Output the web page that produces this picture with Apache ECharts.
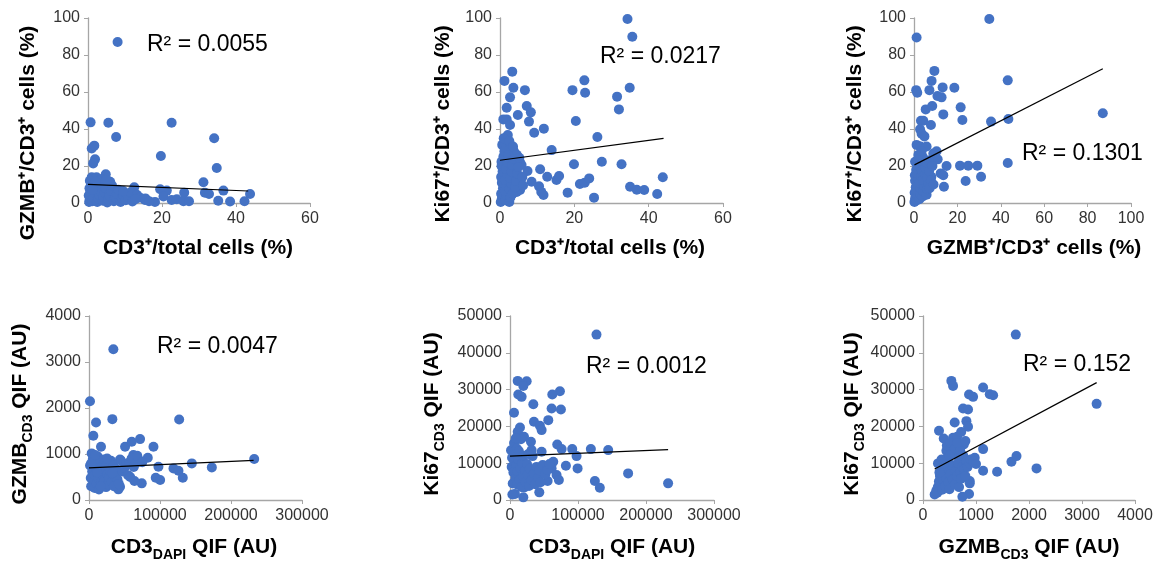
<!DOCTYPE html>
<html>
<head>
<meta charset="utf-8">
<script src="https://cdn.jsdelivr.net/npm/echarts@6/dist/echarts.min.js"></script>
<style>
  html, body { margin: 0; padding: 0; background: #fff; }
  #main { width: 1165px; height: 563px; }
</style>
</head>
<body>
<div id="main"></div>
<script>
// panel 1: CD3+/total cells (%) vs GZMB+/CD3+ cells (%)
var cd3VsGzmb = [
  [8.0, 87], [0.7, 43.6], [5.5, 43.4], [22.6, 43.4], [7.6, 35.7], [34.1, 35], [1.0, 29.5], [1.7, 31],
  [19.7, 25.4], [1.9, 23.6], [1.4, 21.4], [34.8, 18.9], [1.0, 13.9], [2.3, 13.9], [4.8, 15.5], [3.2, 12.4],
  [31.2, 11.2], [12.5, 8.5], [19.5, 7.4], [21.3, 6.7], [26, 5.6], [31.6, 5.6], [32.7, 4.9], [36.6, 6.7],
  [43.8, 4.9], [15.4, 1.6], [18.1, 0.6], [22.6, 1.6], [24, 2.0], [25.8, 1.0], [27.3, 0.9], [35.2, 1.2],
  [38.4, 0.8], [42.3, 0.9], [20.4, 3.5],
  [0.3, 0.5], [0.5, 2], [0.2, 4], [0.6, 6], [0.4, 8], [0.8, 10], [1.2, 1], [1.5, 3], [1.8, 5.5], [2.0, 7.5],
  [2.2, 9.5], [2.5, 0.5], [2.8, 2.5], [3.0, 4.5], [3.3, 6.5], [3.6, 10.5], [4.0, 1.2], [4.2, 3.2], [4.5, 5.5],
  [4.8, 8], [5.2, 0.3], [5.5, 2.2], [5.8, 4], [6.2, 6.5], [6.5, 9.5], [7.0, 1], [7.4, 3], [7.8, 5], [8.2, 7.2],
  [8.8, 0.5], [9.2, 2.5], [9.6, 4.2], [10.2, 1.5], [10.8, 3.5], [11.5, 5.8], [12.0, 0.8], [13.2, 4.5], [14.0, 3],
  [12.8, 2], [6.0, 11.5], [3.8, 13], [5.0, 12.5], [0.5, 12], [2.0, 11.5], [1.2, 7.2], [15.5, 2.5], [16.5, 1], [9.5, 6.5]
];
var trend1 = [[0, 10.1], [43.3, 6.5]];

// panel 2: CD3+/total cells (%) vs Ki67+/CD3+ cells (%)
var cd3VsKi67 = [
  [34.3, 99.5], [35.6, 89.9], [3.3, 71], [1.2, 66], [22.7, 66.3], [3.6, 62.3], [6.7, 61], [19.5, 61],
  [22.9, 59.6], [34.9, 62.3], [2.7, 57.1], [31.5, 57.5], [32, 50.6], [1.8, 51.5], [7.2, 52.4], [4.8, 47.6],
  [8.3, 49], [7.8, 44], [20.4, 44.3], [0.9, 45.2], [1.8, 45.2], [2.7, 42.2], [2.1, 36.8], [9.2, 38], [11.8, 40.2],
  [26.2, 35.7], [13.9, 28.6], [0.6, 31.4], [2.7, 31.4], [3.6, 28.6], [0.4, 22.3], [27.4, 22.3], [19.9, 20.9],
  [32.7, 20.9], [7.4, 17.3], [10.8, 18.2], [5.4, 22], [5.8, 20.5], [12.7, 14.2], [15.2, 12.4], [15.9, 14.6],
  [8.5, 11.5], [10.5, 9], [11.7, 4.3], [11.1, 6], [18.2, 5.6], [21.5, 10.3], [22.8, 11], [24, 13.3], [25.3, 2.9],
  [35, 8.8], [36.8, 7.2], [38.8, 7], [42.3, 4.9], [43.8, 13.9], [5.4, 7], [4.5, 6],
  [0.2, 0.5], [0.5, 2.5], [0.3, 5], [0.8, 8], [0.5, 11], [0.3, 14], [0.7, 17], [0.4, 20], [0.9, 25], [1.2, 28],
  [1.5, 1.5], [1.8, 4], [1.3, 6.5], [1.7, 9.5], [1.4, 12.5], [1.9, 15.5], [1.6, 18.5], [2.0, 22], [2.3, 26],
  [2.5, 0.5], [2.8, 3], [2.6, 7.5], [3.0, 10.5], [2.7, 13.5], [3.1, 17], [3.3, 20.5], [3.6, 24], [4.0, 27],
  [3.4, 5], [4.1, 8.5], [4.3, 12], [4.6, 16], [4.9, 19.5], [5.2, 24.5], [6, 14], [1.0, 35], [2.5, 33.5],
  [3.5, 30.5], [4.5, 26], [6.2, 9.5]
];
var trend2 = [[0, 23.1], [44, 34.9]];

// panel 3: GZMB+/CD3+ cells (%) vs Ki67+/CD3+ cells (%)
var gzmbVsKi67 = [
  [34.7, 99.5], [1.2, 89.5], [9.4, 71.4], [8.1, 66], [43.2, 66.3], [1, 61], [1.5, 59.6], [7.1, 61], [13.2, 62.5],
  [18.6, 62.3], [10.8, 57.8], [12.7, 57.1], [5.4, 50.6], [8.4, 52.4], [21.5, 51.7], [13.5, 47.9], [22.3, 44.9],
  [35.5, 44], [43.5, 45.4], [3.2, 44.5], [4.3, 44.5], [7.8, 42.2], [2.8, 39.8], [3.5, 37.5], [4.8, 36],
  [1.2, 31.4], [3.0, 30.5], [5.8, 30.5], [10.4, 28], [8.9, 26.8], [0.5, 22.3], [43.2, 21.6], [21.2, 20.2],
  [25, 20.2], [29.2, 20.2], [15, 20], [30.9, 14.2], [23.8, 11.9], [13.8, 8.8], [12.3, 16], [13.5, 15],
  [87, 48.5], [9.4, 23.6], [10.9, 23.6], [8.0, 14.2],
  [0.2, 0.5], [0.5, 2.5], [0.3, 5.5], [0.8, 8.5], [0.5, 12], [0.4, 15], [1.0, 18], [1.3, 1.5], [1.6, 4],
  [1.2, 7], [1.8, 10], [2.0, 13], [1.5, 16], [2.2, 20], [2.5, 2], [2.8, 5], [3.0, 8], [2.6, 11], [3.3, 14.5],
  [3.6, 17.5], [4.0, 3.5], [4.3, 6.5], [4.6, 9.5], [4.2, 12.5], [5.0, 15.5], [5.3, 19], [5.8, 4.5], [6.2, 7.5],
  [6.5, 11], [6.0, 14], [7.0, 17.5], [7.2, 8], [7.8, 12], [5.5, 22], [4.0, 25], [6.8, 23], [2.0, 26], [3.5, 28],
  [8.5, 20], [9.0, 10]
];
var trend3 = [[0.2, 20.6], [87, 72.6]];

// panel 4: CD3 DAPI QIF vs GZMB CD3 QIF
var dapiVsGzmbQif = [
  [34300, 3277], [1400, 2148], [32900, 1758], [9900, 1685], [127000, 1750], [6100, 1396], [50800, 1157],
  [60200, 1266], [71900, 1324], [16900, 1157], [90800, 1157], [3800, 1013], [62500, 977], [82800, 919],
  [70500, 868], [43700, 882], [31000, 854], [144800, 796], [173000, 709], [232700, 890], [97800, 723],
  [119000, 687], [126000, 637], [132100, 485], [94000, 485], [100200, 434], [74300, 362], [64000, 412],
  [43700, 289], [41400, 231],
  [1500, 750], [2500, 480], [3000, 300], [4500, 620], [5500, 900], [6500, 400], [7500, 550], [8000, 260],
  [9000, 800], [10000, 680], [11000, 350], [12000, 950], [13000, 480], [14000, 230], [15000, 860], [16000, 600],
  [17000, 380], [18000, 720], [19000, 300], [20000, 520], [21000, 880], [22000, 420], [23000, 650], [24000, 280],
  [25000, 760], [26000, 560], [27000, 340], [28000, 480], [30000, 620], [32000, 400], [34000, 760], [35000, 300],
  [36000, 520], [38000, 680], [40000, 450], [42000, 350], [45000, 860], [47000, 620], [50000, 700], [52000, 780],
  [55000, 540], [57000, 820], [58000, 500], [60000, 900], [63000, 720], [66000, 800], [68000, 960], [75000, 820],
  [3000, 800], [8500, 980], [11500, 600], [16500, 300], [25500, 900], [33000, 580]
];
var trend4 = [[0, 700], [231800, 860]];

// panel 5: CD3 DAPI QIF vs Ki67 CD3 QIF
var dapiVsKi67Qif = [
  [127200, 44940], [11300, 32370], [24500, 32280], [19600, 31010], [12200, 28660], [17100, 28030],
  [73400, 29570], [62200, 28660], [34300, 26040], [5900, 23690], [61200, 24860], [74900, 24590],
  [35200, 21250], [56300, 21700], [44000, 20160], [46500, 18990], [14700, 19710], [11300, 18540],
  [20600, 17180], [30800, 15820], [69500, 15100], [75900, 13830], [91500, 13830], [118900, 13830],
  [144400, 13560], [46500, 13110], [31800, 13560], [33300, 11930], [97900, 11930], [63600, 10400],
  [50400, 9310], [61200, 8590], [82200, 9310], [99400, 8590], [68500, 6780], [71900, 5420], [55300, 5150],
  [124800, 5150], [132100, 3350], [173700, 7230], [232500, 4520], [43100, 2080], [19600, 720], [7300, 1630],
  [21000, 3440],
  [1500, 13500], [2500, 9000], [3000, 11500], [4000, 4500], [5000, 7500], [6000, 15500], [6500, 10500],
  [7500, 12500], [8000, 6000], [9000, 9500], [10000, 14000], [10500, 4200], [11000, 7800], [12000, 11000],
  [13000, 13300], [14000, 5500], [15000, 8800], [16000, 16500], [17000, 3500], [18000, 10000], [19000, 6500],
  [20000, 12000], [22000, 8000], [23000, 4800], [25000, 9800], [26000, 6800], [28000, 3800], [29000, 8500],
  [32000, 5500], [35000, 7200], [37000, 4300], [39000, 9000], [41000, 6200], [43000, 8000], [45000, 4800],
  [48000, 9500], [52000, 7000], [55000, 8200], [58000, 9800], [27000, 12500], [3500, 1500], [8500, 16800]
];
var trend5 = [[0, 11900], [232500, 13700]];

// panel 6: GZMB CD3 QIF vs Ki67 CD3 QIF
var gzmbVsKi67Qif = [
  [1751, 44940], [535, 32370], [567, 31010], [1134, 30560], [1260, 28750], [1323, 28480], [869, 28660],
  [945, 28030], [3276, 26130], [756, 24860], [850, 24590], [598, 21070], [819, 21430], [850, 19890],
  [302, 18810], [391, 16730], [567, 16910], [643, 17180], [441, 13380], [769, 15100], [1134, 13830],
  [283, 9950], [460, 11300], [680, 11300], [976, 11480], [1669, 10400], [1764, 11930], [1134, 7960],
  [1398, 7690], [2142, 8590], [882, 5150], [882, 4520], [869, 1630], [743, 900],
  [220, 1500], [250, 2500], [280, 3500], [300, 5000], [320, 6500], [350, 8000], [270, 2000], [330, 4200],
  [360, 2800], [380, 5500], [400, 7200], [420, 3800], [440, 6000], [460, 8500], [480, 4800], [500, 2900],
  [520, 7000], [540, 9500], [560, 5500], [580, 12500], [600, 4200], [620, 8000], [640, 6500], [660, 10000],
  [680, 3500], [700, 7500], [720, 5800], [740, 9000], [760, 12000], [780, 8500], [800, 6500], [820, 10500],
  [840, 9000], [880, 10000], [900, 11000], [950, 10500], [1000, 9800], [450, 14800], [520, 15500],
  [600, 14000], [700, 13500], [400, 10000], [310, 7500], [350, 11000], [500, 12000], [650, 15500],
  [720, 18500], [800, 16000]
];
var trend6 = [[220, 8400], [3276, 31900]];

var rSquared = ['R² = 0.0055', 'R² = 0.0217', 'R² = 0.1301', 'R² = 0.0047', 'R² = 0.0012', 'R² = 0.152'];

var chartDom = document.getElementById('main');
var myChart = echarts.init(chartDom);
var font = "'Liberation Sans', Arial, sans-serif";
var blue = '#4472C4';

var grids = [
  { left: 88, top: 18, width: 222, height: 185 },
  { left: 500, top: 18, width: 223, height: 185 },
  { left: 914, top: 18, width: 217, height: 185 },
  { left: 89, top: 316, width: 213, height: 184 },
  { left: 510, top: 316, width: 204, height: 184 },
  { left: 923, top: 316, width: 212, height: 184 }
];
var xRanges = [[0, 60, 20], [0, 60, 20], [0, 100, 20], [0, 300000, 100000], [0, 300000, 100000], [0, 4000, 1000]];
var yRanges = [[0, 100, 20], [0, 100, 20], [0, 100, 20], [0, 4000, 1000], [0, 50000, 10000], [0, 50000, 10000]];
var points = [cd3VsGzmb, cd3VsKi67, gzmbVsKi67, dapiVsGzmbQif, dapiVsKi67Qif, gzmbVsKi67Qif];
var trends = [trend1, trend2, trend3, trend4, trend5, trend6];

function axis (r, idx) {
  return {
    type: 'value', gridIndex: idx, min: r[0], max: r[1], interval: r[2],
    splitLine: { show: false },
    axisLine: { show: true, lineStyle: { color: '#a6a6a6', width: 1.3 } },
    axisTick: { show: true, length: 4, lineStyle: { color: '#a6a6a6' } },
    axisLabel: { fontFamily: font, fontSize: 16, color: '#333', margin: 8, formatter: function (v) { return String(v) } }
  };
}

var xAxes = [], yAxes = [], series = [];
for (var i = 0; i < 6; i++) {
  xAxes.push(axis(xRanges[i], i));
  yAxes.push(axis(yRanges[i], i));
  series.push({
    type: 'scatter', xAxisIndex: i, yAxisIndex: i, data: points[i],
    symbolSize: 10, itemStyle: { color: blue, opacity: 1 }, silent: true
  });
  series.push({
    type: 'line', xAxisIndex: i, yAxisIndex: i, data: trends[i], symbol: 'none',
    lineStyle: { color: '#000', width: 1.2 }, z: 5, silent: true
  });
}

var rich = {
  m: { fontFamily: font, fontSize: 21, fontWeight: 'bold', color: '#000', lineHeight: 30, verticalAlign: 'middle' },
  s: { fontFamily: font, fontSize: 14, fontWeight: 'bold', color: '#000', lineHeight: 12, verticalAlign: 'bottom' }
};
function title (text, x, y, vertical) {
  return {
    type: 'text', x: x, y: y, rotation: vertical ? Math.PI / 2 : 0,
    style: { text: text, rich: rich, align: 'center', verticalAlign: 'middle' }
  };
}
function rLabel (text, x, y) {
  return {
    type: 'text', x: x, y: y,
    style: { text: text, fontFamily: font, fontSize: 23, fill: '#000', align: 'left', verticalAlign: 'middle' }
  };
}

var graphics = [
  title('{m|GZMB⁺/CD3⁺ cells (%)}', 28, 133, true),
  title('{m|CD3⁺/total cells (%)}', 198, 248),
  title('{m|Ki67⁺/CD3⁺ cells (%)}', 443, 124, true),
  title('{m|CD3⁺/total cells (%)}', 610, 248),
  title('{m|Ki67⁺/CD3⁺ cells (%)}', 855, 124, true),
  title('{m|GZMB⁺/CD3⁺ cells (%)}', 1034, 248),
  title('{m|GZMB}{s|CD3}{m| QIF (AU)}', 20, 414, true),
  title('{m|CD3}{s|DAPI}{m| QIF (AU)}', 194, 547),
  title('{m|Ki67}{s|CD3}{m| QIF (AU)}', 432, 414, true),
  title('{m|CD3}{s|DAPI}{m| QIF (AU)}', 612, 547),
  title('{m|Ki67}{s|CD3}{m| QIF (AU)}', 852, 414, true),
  title('{m|GZMB}{s|CD3}{m| QIF (AU)}', 1029, 547),
  rLabel(rSquared[0], 147, 45),
  rLabel(rSquared[1], 600, 57),
  rLabel(rSquared[2], 1022, 154),
  rLabel(rSquared[3], 157, 347),
  rLabel(rSquared[4], 586, 367),
  rLabel(rSquared[5], 1023, 365)
];

var option = {
  animation: false,
  backgroundColor: '#fff',
  grid: grids,
  xAxis: xAxes,
  yAxis: yAxes,
  series: series,
  graphic: graphics
};
myChart.setOption(option);
window.addEventListener('resize', () => myChart.resize());
</script>
</body>
</html>
